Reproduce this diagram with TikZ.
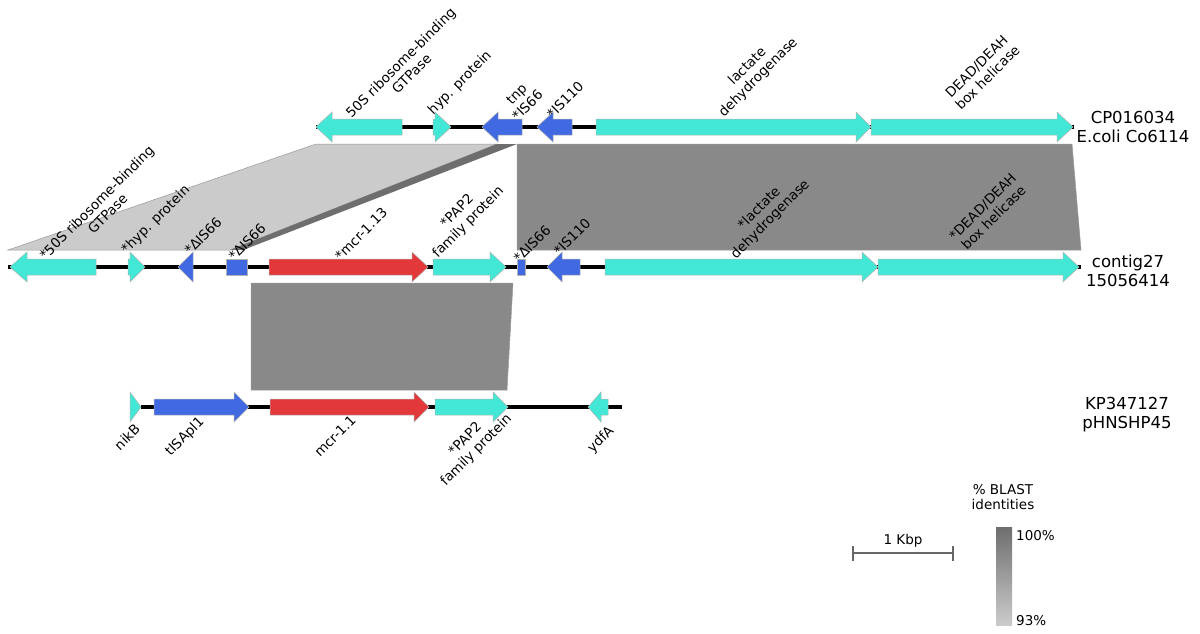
\documentclass[tikz,border=0pt]{standalone}
\usepackage{fontspec}
\setmainfont{DejaVu Sans}
\definecolor{genecyan}{HTML}{42E8D5}
\definecolor{geneblue}{HTML}{4169E1}
\definecolor{genered}{HTML}{E2383A}
\definecolor{hitlight}{HTML}{CBCBCB}
\definecolor{hitmid}{HTML}{898989}
\definecolor{hitdark}{HTML}{6E6E6E}
\begin{document}
\begin{tikzpicture}[x=1pt, y=-1pt,
	gene/.style={draw=black!30, line width=0.5pt},
	track/.style={line width=4pt},
	hit/.style={draw=black!40, line width=0.5pt},
	lab/.style={rotate=45, align=center, inner sep=0pt, font=\fontsize{13.5}{15.5}\selectfont},
	small/.style={inner sep=0pt, font=\fontsize{13.5}{15.5}\selectfont},
	trackname/.style={align=center, inner sep=0pt, font=\fontsize{16.5}{19}\selectfont}]
		\useasboundingbox (0,0) rectangle (1200,634);
		\filldraw[hit, fill=hitlight] (316,144) -- (497,144) -- (230,250) -- (8,250) -- cycle;
		\fill[hitdark] (497,144) -- (517,144) -- (243,250) -- (230,250) -- cycle;
		\filldraw[hit, fill=hitmid] (517,144) -- (1072,144) -- (1081,250) -- (517,250) -- cycle;
		\filldraw[hit, fill=hitmid] (251,283) -- (513,283) -- (507,390) -- (251,390) -- cycle;
		\draw[track] (316,127) -- (1074,127);
		\draw[track] (8,267) -- (1081,267);
		\draw[track] (141,407) -- (622,407);
		\filldraw[gene, fill=genecyan] (316,127) -- (332,112) -- (332,119) -- (402,119) -- (402,135) -- (332,135) -- (332,142) -- cycle;
		\filldraw[gene, fill=genecyan] (433,119) -- (435,119) -- (435,112) -- (451,127) -- (435,142) -- (435,135) -- (433,135) -- cycle;
		\filldraw[gene, fill=geneblue] (482,127) -- (498,112) -- (498,119) -- (522,119) -- (522,135) -- (498,135) -- (498,142) -- cycle;
		\filldraw[gene, fill=geneblue] (537,127) -- (553,112) -- (553,119) -- (572,119) -- (572,135) -- (553,135) -- (553,142) -- cycle;
		\filldraw[gene, fill=genecyan] (596,119) -- (856,119) -- (856,112) -- (871,127) -- (856,142) -- (856,135) -- (596,135) -- cycle;
		\filldraw[gene, fill=genecyan] (871,119) -- (1057,119) -- (1057,112) -- (1073,127) -- (1057,142) -- (1057,135) -- (871,135) -- cycle;
		\filldraw[gene, fill=genecyan] (10,267) -- (27,252) -- (27,259) -- (96,259) -- (96,275) -- (27,275) -- (27,282) -- cycle;
		\filldraw[gene, fill=genecyan] (128,259) -- (130,259) -- (130,252) -- (145,267) -- (130,282) -- (130,275) -- (128,275) -- cycle;
		\filldraw[gene, fill=geneblue] (178,267) -- (193,252) -- (193,282) -- cycle;
		\filldraw[gene, fill=geneblue] (226,259) rectangle (247,275);
		\filldraw[gene, fill=genered] (269,259) -- (412,259) -- (412,252) -- (428,267) -- (412,282) -- (412,275) -- (269,275) -- cycle;
		\filldraw[gene, fill=genecyan] (433,259) -- (490,259) -- (490,252) -- (506,267) -- (490,282) -- (490,275) -- (433,275) -- cycle;
		\filldraw[gene, fill=geneblue] (517,259) rectangle (525,275);
		\filldraw[gene, fill=geneblue] (547,267) -- (562,252) -- (562,259) -- (580,259) -- (580,275) -- (562,275) -- (562,282) -- cycle;
		\filldraw[gene, fill=genecyan] (605,259) -- (862,259) -- (862,252) -- (878,267) -- (862,282) -- (862,275) -- (605,275) -- cycle;
		\filldraw[gene, fill=genecyan] (878,259) -- (1063,259) -- (1063,252) -- (1079,267) -- (1063,282) -- (1063,275) -- (878,275) -- cycle;
		\filldraw[gene, fill=genecyan] (130,392) -- (141,407) -- (130,422) -- cycle;
		\filldraw[gene, fill=geneblue] (154,399) -- (234,399) -- (234,392) -- (249,407) -- (234,422) -- (234,415) -- (154,415) -- cycle;
		\filldraw[gene, fill=genered] (270,399) -- (414,399) -- (414,392) -- (429,407) -- (414,422) -- (414,415) -- (270,415) -- cycle;
		\filldraw[gene, fill=genecyan] (435,399) -- (493,399) -- (493,392) -- (508,407) -- (493,422) -- (493,415) -- (435,415) -- cycle;
		\filldraw[gene, fill=genecyan] (588,407) -- (601,392) -- (601,399) -- (608,399) -- (608,415) -- (601,415) -- (601,422) -- cycle;
		\node[lab] (gtpaseA) at (406,68) {50S ribosome-binding\\GTPase};
		\node[lab] (hypA) at (460,83) {hyp. protein};
		\node[lab] (tnpA) at (522,100) {tnp\\*IS66};
		\node[lab] (istA) at (565,100) {*IS110};
		\node[lab] (ldhA) at (753,72) {lactate\\dehydrogenase};
		\node[lab] (deadA) at (982,72) {DEAD/DEAH\\box helicase};
		\node[lab] (gtpaseB) at (102,208) {*50S ribosome-binding\\GTPase};
		\node[lab] (hypB) at (156,220) {*hyp. protein};
		\node[lab] (deltaB1) at (203,236) {*ΔIS66};
		\node[lab] (deltaB2) at (247,242) {*ΔIS66};
		\node[lab] (mcrB) at (361,234) {*mcr-1.13};
		\node[lab] (papB) at (463,217) {*PAP2\\family protein};
		\node[lab] (deltaB3) at (532,244) {*ΔIS66};
		\node[lab] (istB) at (572,237) {*IS110};
		\node[lab] (ldhB) at (765,214) {*lactate\\dehydrogenase};
		\node[lab] (deadB) at (988,212) {*DEAD/DEAH\\box helicase};
		\node[lab] (nikC) at (127,437) {nikB};
		\node[lab] (tisC) at (185,437) {tISApl1};
		\node[lab] (mcrC) at (335,436) {mcr-1.1};
		\node[lab] (papC) at (471,445) {*PAP2\\family protein};
		\node[lab] (ydfC) at (601,440) {ydfA};
		\node[trackname] (cp) at (1133,127) {CP016034\\E.coli Co6114};
		\node[trackname] (contig) at (1128,271) {contig27\\15056414};
		\node[trackname] (kp) at (1127,415) {KP347127\\pHNSHP45};
		\node[small] (kbp) at (903,541) {1 Kbp};
		\draw[black!60, line width=1.2pt] (853,553) -- (953,553) (853,546) -- (853,561) (953,546) -- (953,561);
		\node[small, align=center] (blast) at (1003,497) {\% BLAST\\identities};
		\shade[top color=hitdark, bottom color=hitlight] (996,527) rectangle (1012,625);
		\node[small, anchor=west] (top) at (1016,536) {100\%};
		\node[small, anchor=west] (bottom) at (1016,621) {93\%};
\end{tikzpicture}
\end{document}
